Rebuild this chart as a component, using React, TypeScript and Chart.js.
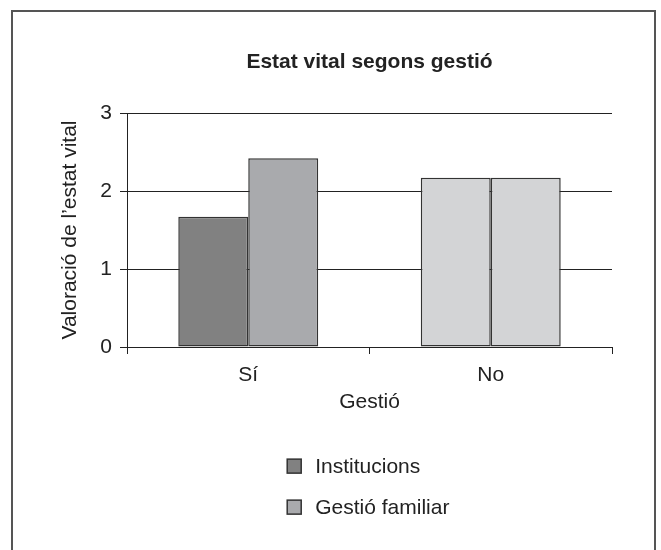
import { useEffect, useRef } from "react";
import { Chart, registerables } from "chart.js";

Chart.register(...registerables);

const categories = ["Sí", "No"];
const seriesNames = ["Institucions", "Gestió familiar"];
const institucions = [1.67, 2.17];
const gestioFamiliar = [2.42, 2.17];
const yTicks = [0, 1, 2, 3];
const institucionsColors = ["#818181", "#d3d4d6"];
const familiarColors = ["#a9aaad", "#d3d4d6"];
const legendColors = ["#818181", "#a9aaad"];

const FONT = "'Liberation Sans', Arial, Helvetica, sans-serif";
const TEXT = "#222222";
const LINE = "#222222";
const SIZE = 21;

const stackedLegend = {
  id: "stackedLegend",
  afterDraw(chart: any) {
    const ctx = chart.ctx as CanvasRenderingContext2D;
    const w = chart.width;
    const boxX = w * 0.4345;
    const textX = boxX + 28;
    const firstY = chart.height * 0.8475;
    const gap = 41;
    ctx.save();
    ctx.font = `${SIZE}px ${FONT}`;
    ctx.textBaseline = "middle";
    ctx.textAlign = "left";
    chart.data.datasets.forEach((ds: any, i: number) => {
      const cy = firstY + i * gap;
      ctx.fillStyle = legendColors[i];
      ctx.fillRect(boxX, cy - 7, 14, 14);
      ctx.strokeStyle = "#333333";
      ctx.lineWidth = 1.5;
      ctx.strokeRect(boxX, cy - 7, 14, 14);
      ctx.fillStyle = TEXT;
      ctx.fillText(ds.label, textX, cy + 1);
    });
    ctx.restore();
  },
};

export default function App() {
  const canvasRef = useRef<HTMLCanvasElement | null>(null);

  useEffect(() => {
    if (!canvasRef.current) return;
    Chart.defaults.font.family = FONT;
    const chart = new Chart(canvasRef.current, {
      type: "bar",
      data: {
        labels: categories,
        datasets: [
          {
            label: seriesNames[0],
            data: institucions,
            backgroundColor: institucionsColors,
            borderColor: "#333333",
            borderWidth: 1.5,
            borderSkipped: false,
            categoryPercentage: 0.577,
            barPercentage: 1,
          },
          {
            label: seriesNames[1],
            data: gestioFamiliar,
            backgroundColor: familiarColors,
            borderColor: "#333333",
            borderWidth: 1.5,
            borderSkipped: false,
            categoryPercentage: 0.577,
            barPercentage: 1,
          },
        ],
      },
      options: {
        animation: false,
        responsive: true,
        maintainAspectRatio: false,
        layout: { padding: { left: 46, right: 49, top: 0, bottom: 131 } },
        plugins: {
          legend: { display: false },
          tooltip: { enabled: false },
          title: {
            display: true,
            fullSize: false,
            text: "Estat vital segons gestió",
            color: TEXT,
            font: { size: SIZE, weight: "bold", family: FONT },
            padding: { top: 50, bottom: 37.8 },
          },
        },
        scales: {
          x: {
            ticks: { padding: 9, color: TEXT, font: { size: SIZE, family: FONT } },
            grid: {
              offset: true,
              drawOnChartArea: false,
              drawTicks: true,
              tickLength: 7,
              color: LINE,
              lineWidth: 1,
            },
            border: { display: true, color: LINE, width: 1 },
            title: {
              display: true,
              text: "Gestió",
              color: TEXT,
              font: { size: SIZE, family: FONT },
              padding: { top: 0, bottom: 4 },
            },
            afterFit: (s: any) => {
              s.height = 72;
            },
          },
          y: {
            min: 0,
            max: 3,
            afterBuildTicks: (s: any) => {
              s.ticks = yTicks.map((v) => ({ value: v }));
            },
            ticks: { padding: 8, color: TEXT, font: { size: SIZE, family: FONT } },
            grid: { color: LINE, lineWidth: 1, tickLength: 7, drawTicks: true },
            border: { display: true, color: LINE, width: 1 },
            title: {
              display: true,
              text: "Valoració de l’estat vital",
              color: TEXT,
              font: { size: SIZE, family: FONT },
              padding: { top: 11.4, bottom: 0 },
            },
            afterFit: (s: any) => {
              s.width = 81;
            },
          },
        },
      },
      plugins: [stackedLegend],
    });
    return () => chart.destroy();
  }, []);

  return (
    <>
      <div
        style={{
          position: "absolute",
          left: 0,
          top: 0,
          width: 661,
          height: 550,
          background: "#ffffff",
        }}
      >
        <canvas ref={canvasRef} />
      </div>
      <div
        style={{
          position: "absolute",
          left: 11,
          top: 10,
          width: 645,
          height: 540,
          border: "2px solid #555555",
          borderBottom: "none",
          boxSizing: "border-box",
          pointerEvents: "none",
        }}
      />
    </>
  );
}
